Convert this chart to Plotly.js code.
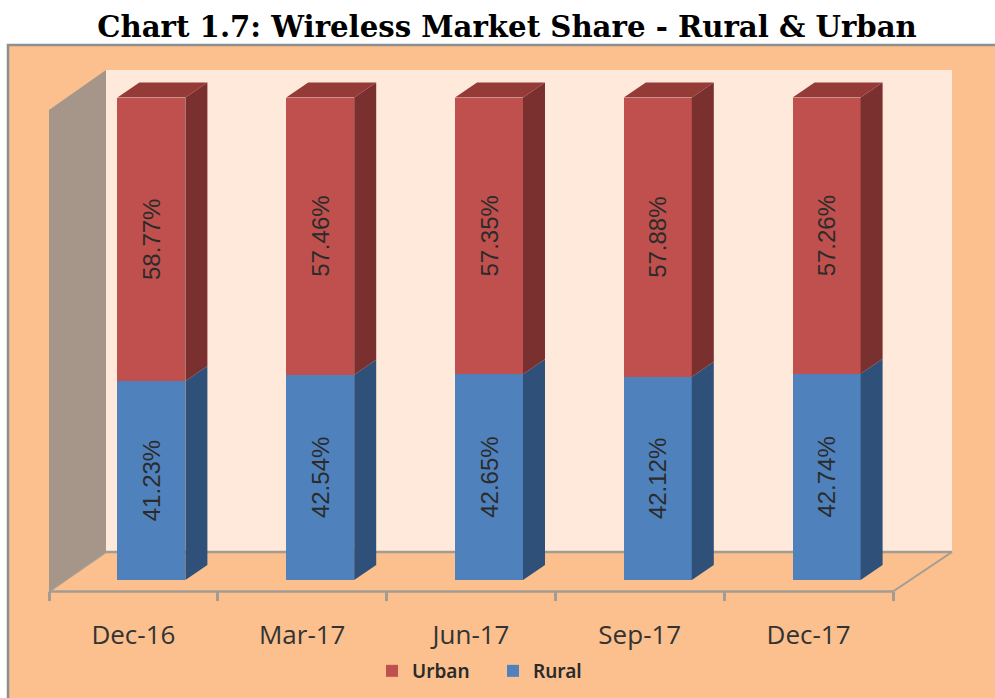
<!DOCTYPE html>
<html>
<head>
<meta charset="utf-8">
<script src="https://cdn.plot.ly/plotly-3.0.1.min.js"></script>
<style>html,body{margin:0;padding:0;background:#fff}#chart{width:995px;height:698px}</style>
</head>
<body>
<div id="chart"></div>
<script>
var categories = ['Dec-16','Mar-17','Jun-17','Sep-17','Dec-17'];
var rural = [41.23,42.54,42.65,42.12,42.74];
var urban = [58.77,57.46,57.35,57.88,57.26];
var W = 995, H = 698;

// Pixel calibration of the pseudo-3D scene
var bandPx = 168.8, x0Px = 49, zeroPx = 580, unitPx = 4.825;
var xRange = [-x0Px/bandPx, (W-x0Px)/bandPx];
var yRange = [-(H-zeroPx)/unitPx, zeroPx/unitPx];
var barW = 68/bandPx, barShift = 18/bandPx, dx = 22/bandPx, dy = 15/unitPx;
var axisY = (H-591)/H;

var pos = categories.map(function(_,i){return i+0.5+barShift;});
function fmt(a){return a.map(function(v){return v.toFixed(2)+'%';});}

function sideFaces(bottoms, tops){
  var xs=[], ys=[];
  pos.forEach(function(p,i){
    var r=p+barW/2;
    xs.push(r,r+dx,r+dx,r,r,null);
    ys.push(bottoms[i],bottoms[i]+dy,tops[i]+dy,tops[i],bottoms[i],null);
  });
  return {x:xs,y:ys};
}
function topFaces(tops){
  var xs=[], ys=[];
  pos.forEach(function(p,i){
    var l=p-barW/2, r=p+barW/2;
    xs.push(l,r,r+dx,l+dx,l,null);
    ys.push(tops[i],tops[i],tops[i]+dy,tops[i]+dy,tops[i],null);
  });
  return {x:xs,y:ys};
}
function poly(d,color){
  return {type:'scatter',mode:'lines',x:d.x,y:d.y,fill:'toself',fillcolor:color,
    line:{width:0,color:color},hoverinfo:'skip',showlegend:false};
}
var labelFont = {family:'Liberation Sans',size:24,color:'#2b2b2b'};
function bar(name,vals,color){
  return {type:'bar',name:name,x:pos,y:vals,width:barW,
    marker:{color:color,line:{width:0}},
    text:fmt(vals),textposition:'inside',insidetextanchor:'middle',textangle:-90,
    insidetextfont:labelFont,constraintext:'none',cliponaxis:false};
}
var totals = rural.map(function(v,i){return v+urban[i];});
var zeros = rural.map(function(){return 0;});
var traces = [
  bar('Rural',rural,'#4F81BD'),
  bar('Urban',urban,'#C0504D'),
  poly(sideFaces(zeros,rural),'#2F5078'),
  poly(sideFaces(rural,totals),'#7A302E'),
  poly(topFaces(totals),'#943B38')
];

function px(x){return x/W;} function py(y){return 1-y/H;}
function pathShape(pts,fill,lineColor,lineW,above){
  var d = pts.map(function(p,i){return (i?'L':'M')+px(p[0]).toFixed(5)+','+py(p[1]).toFixed(5);}).join(' ');
  return {type:'path',xref:'paper',yref:'paper',path:d+(fill?' Z':''),fillcolor:fill||'rgba(0,0,0,0)',
    line:{color:lineColor||'rgba(0,0,0,0)',width:lineW||0},layer:above?'above':'below'};
}
var grey='#A39C92';
var shapes = [
  pathShape([[8,45],[W+5,45],[W+5,H+5],[8,H+5]],'#FBC08E','#8F8F8F',2.5),
  pathShape([[106,70],[952,70],[952,552],[106,552]],'#FEE9DA'),
  pathShape([[49,110],[106,70],[106,552],[49,592]],'#A59689'),
  pathShape([[106,552],[952,552]],null,grey,2.5),
  pathShape([[49,591.5],[106,552]],null,grey,2),
  pathShape([[893,591.5],[952,552]],null,grey,2),
  pathShape([[49,591.5],[893,591.5]],null,grey,2.5)
];

var layout = {
  width:W,height:H,margin:{l:0,r:0,t:0,b:0,pad:0},
  paper_bgcolor:'#fff',plot_bgcolor:'rgba(0,0,0,0)',
  barmode:'stack',showlegend:true,hovermode:false,
  title:{text:'<b>Chart 1.7: Wireless Market Share - Rural &amp; Urban</b>',
    font:{family:'DejaVu Serif',size:29.2,color:'#000'},
    xref:'paper',yref:'paper',x:507/W,xanchor:'center',y:1-27/H,yanchor:'middle',pad:{t:0,b:0,l:0,r:0}},
  xaxis:{type:'linear',range:xRange,fixedrange:true,showgrid:false,zeroline:false,showline:false,
    anchor:'free',position:axisY,
    tickmode:'array',tickvals:categories.map(function(_,i){return i+0.5;}),ticktext:categories,
    ticks:'outside',ticklen:0,tickcolor:'rgba(0,0,0,0)',ticklabelstandoff:21,
    tickfont:{family:'Open Sans',size:26,color:'#333'},
    minor:{tickmode:'array',tickvals:[0,1,2,3,4,5],ticks:'outside',ticklen:9,tickwidth:2.5,tickcolor:grey,showgrid:false}},
  yaxis:{type:'linear',range:yRange,domain:[0,1],visible:false,fixedrange:true},
  legend:{orientation:'h',x:372/W,xanchor:'left',y:1-671/H,yanchor:'middle',traceorder:'reversed',
    entrywidth:76,entrywidthmode:'pixels',
    font:{family:'Noto Sans',size:19,color:'#2a2a2a',weight:600},bgcolor:'rgba(0,0,0,0)'},
  shapes:shapes
};
Plotly.newPlot('chart',traces,layout,{displayModeBar:false,responsive:false});
</script>
</body>
</html>
